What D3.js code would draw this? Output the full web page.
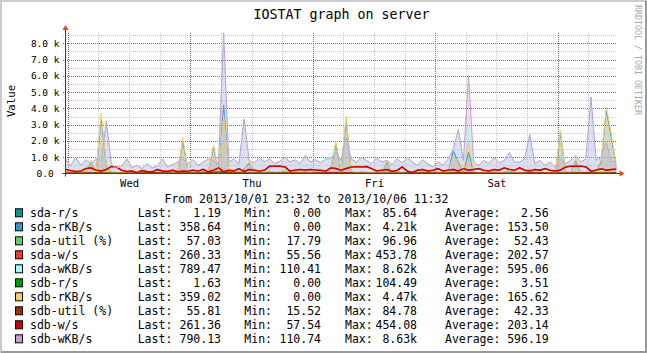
<!DOCTYPE html>
<html><head><meta charset="utf-8">
<script src="https://cdn.jsdelivr.net/npm/d3@7"></script>
<style>
body{margin:0;background:#fff}
svg{display:block}
text{font-family:"DejaVu Sans Mono",monospace;white-space:pre}
</style>
</head><body>
<svg id="c" width="647" height="353"></svg>
<script>
// ---------------- DATA ----------------
const titleText = "IOSTAT graph on server";
const yAxisTitle = "Value";
const watermark = "RRDTOOL / TOBI OETIKER";
const rangeText = "From 2013/10/01 23:32 to 2013/10/06 11:32";
const startTime = new Date(2013, 9, 1, 23, 32);
const endTime = new Date(2013, 9, 6, 11, 32);
const yTicks = [0, 1000, 2000, 3000, 4000, 5000, 6000, 7000, 8000];
const yTickLabels = ["0.0 ", "1.0 k", "2.0 k", "3.0 k", "4.0 k", "5.0 k", "6.0 k", "7.0 k", "8.0 k"];
const dayLabels = ["Wed", "Thu", "Fri", "Sat"];
const dayNoons = [new Date(2013,9,2,12), new Date(2013,9,3,12), new Date(2013,9,4,12), new Date(2013,9,5,12)];

const seriesNames = ["sda-r/s","sda-rKB/s","sda-util (%)","sda-w/s","sda-wKB/s","sdb-r/s","sdb-rKB/s","sdb-util (%)","sdb-w/s","sdb-wKB/s"];
const seriesColors = ["#009999","#3399cc","#66cc66","#ff3333","#99ffff","#009900","#ffcc66","#993300","#cc0000","#cc99cc"];
const lastLabels = ["1.19","358.64","57.03","260.33","789.47","1.63","359.02","55.81","261.36","790.13"];
const minLabels  = ["0.00","0.00","17.79","55.56","110.41","0.00","0.00","15.52","57.54","110.74"];
const maxLabels  = ["85.64","4.21k","96.96","453.78","8.62k","104.49","4.47k","84.78","454.08","8.63k"];
const avgLabels  = ["2.56","153.50","52.43","202.57","595.06","3.51","165.62","42.33","203.14","596.19"];

// sample hours after start (hourly for the big series, 3-hourly for the tiny ones)
const hoursFine = d3.range(0, 109, 1);
const hoursCoarse = d3.range(0, 109, 3);

const sdaRs = [2.1,0.8,3.4,1.2,0.6,2.8,1.5,4.0,0.9,1.7,85.6,2.3,1.1,3.2,0.7,1.9,2.6,0.4,6.8,1.3,0.9,2.4,1.6,0.5,3.1,1.0,8.2,2.0,0.8,1.4,2.7,0.6,1.8,3.5,1.2,0.9,1.19];
const sdbRs = [2.5,1.0,3.8,1.5,0.9,3.2,1.8,4.6,1.2,2.0,104.5,2.8,1.4,3.7,1.0,2.3,3.0,0.7,7.9,1.6,1.2,2.9,2.0,0.8,3.6,1.3,9.4,2.4,1.1,1.7,3.1,0.9,2.2,4.0,1.5,1.2,1.63];
const sdaUtil = [55,48,62,40,35,58,70,45,52,60,97,66,50,44,58,62,48,71,80,55,42,38,50,60,64,47,85,52,46,41,55,63,49,58,72,50,57];
const sdbUtil = [45,38,50,32,28,47,58,36,42,49,84,54,40,35,47,50,38,58,66,44,33,30,40,49,52,37,70,42,36,31,44,51,39,47,60,40,56];

const sdbWKB = [
900,450,1000,500,850,600,900,800,3200,550,
350,450,900,350,500,300,600,350,450,900,
400,550,700,900,600,850,500,700,900,750,
600,8630,700,900,600,3350,800,650,1000,700,
900,600,750,1000,700,850,600,1100,700,850,
650,900,900,1300,800,2150,900,700,1000,800,
600,950,700,800,550,900,650,1000,700,500,
850,600,400,700,500,900,1500,2700,800,6000,
700,500,800,600,1000,650,800,1300,700,700,
900,2400,600,800,500,700,400,900,600,800,
1100,700,900,4700,800,1000,1900,700,790];
const sdaWKB = [
880,470,980,520,830,620,880,780,3100,570,
360,440,880,370,490,310,590,360,460,880,
420,540,690,880,620,830,520,690,880,760,
620,8620,690,880,620,3300,780,660,980,720,
880,620,740,980,720,830,620,1080,720,830,
660,880,1250,1250,780,2100,880,720,980,780,
620,930,720,780,570,880,660,980,720,520,
830,620,420,690,520,880,1450,2600,780,2860,
720,520,780,620,980,660,780,1250,720,690,
880,2350,620,780,520,690,420,880,620,780,
1080,720,880,4650,780,980,1850,720,789];
const sdbRKB = [
120,60,200,80,150,800,100,3700,500,90,
60,40,100,30,80,20,60,40,30,80,
50,100,60,2200,150,80,60,200,100,1750,
120,3600,200,150,100,300,750,120,200,80,
150,60,100,200,80,150,60,120,40,100,
80,150,300,1950,200,3500,150,60,100,80,
50,120,60,800,40,100,60,150,80,30,
100,40,60,80,50,120,1000,800,150,2000,
100,40,80,60,150,50,100,200,60,40,
100,300,60,80,40,60,30,2650,100,80,
900,100,60,150,200,800,4100,2400,359];
const sdaRKB = [
110,50,180,70,140,700,90,3400,450,80,
50,30,90,30,70,20,50,30,30,70,
40,90,50,2000,130,70,50,180,90,1600,
110,4210,180,130,90,280,650,110,180,70,
130,50,90,180,70,130,50,110,30,90,
70,130,280,1800,180,3300,130,50,90,70,
40,110,50,700,30,90,50,130,70,30,
90,30,50,70,40,110,1400,700,130,1300,
90,30,70,50,130,40,90,180,50,30,
90,280,50,70,30,50,30,2500,90,70,
800,90,50,130,180,700,3900,2200,358];
const sdaW = [
250,180,120,150,300,350,200,150,250,430,
400,200,120,150,56,180,120,100,250,150,
120,200,100,150,120,200,150,250,100,200,
350,100,200,150,300,120,250,200,150,200,
440,454,450,400,150,200,250,200,250,220,
200,150,350,300,200,300,400,420,400,430,
300,150,200,250,120,200,400,150,60,200,
250,150,200,300,150,200,250,150,300,200,
250,300,200,150,250,200,350,250,200,350,
200,150,250,200,300,200,150,200,400,450,
450,450,400,150,200,300,200,250,260];
const sdbW = [
255,175,125,145,305,345,205,155,245,435,
395,205,115,155,58,185,115,105,245,155,
125,195,105,145,125,205,145,255,105,195,
355,105,195,155,295,125,245,205,145,205,
445,454,448,405,145,205,245,205,245,225,
195,155,345,305,195,305,395,425,405,425,
305,145,205,245,125,195,405,145,62,205,
245,155,195,305,145,205,245,155,295,205,
245,305,195,155,245,205,345,255,195,345,
205,145,245,205,305,195,155,205,395,445,
448,452,405,145,205,295,205,245,261];

const seriesValues = [sdaRs, sdaRKB, sdaUtil, sdaW, sdaWKB, sdbRs, sdbRKB, sdbUtil, sdbW, sdbWKB];
const seriesHours  = [hoursCoarse, hoursFine, hoursCoarse, hoursFine, hoursFine, hoursCoarse, hoursFine, hoursCoarse, hoursFine, hoursFine];
const seriesArea   = [false, true, false, false, true, false, true, false, false, true];

// ---------------- CHART ----------------
const W = 647, H = 353;
const P = {left: 65.5, right: 616.5, top: 33, bottom: 173.5};
const svg = d3.select("#c");
svg.append("rect").attr("width", W).attr("height", H).attr("fill", "#ffffff");
// 3D border
svg.append("path").attr("d", `M1,${H} V1 H${W}`).attr("fill","none").attr("stroke","#cbcbcb").attr("stroke-width",2);
svg.append("path").attr("d", `M1,${H-1} H${W-1} V1`).attr("fill","none").attr("stroke","#999999").attr("stroke-width",2);

const yMax = d3.max(seriesValues, s => d3.max(s));
const x = d3.scaleTime().domain([startTime, endTime]).range([P.left, P.right]);
const y = d3.scaleLinear().domain([0, yMax]).range([P.bottom, P.top]);
const tAt = h => new Date(startTime.getTime() + h * 3600000);

// grid
const minorY = d3.range(500, yMax, 1000);
const majorY = yTicks.slice(1);
const minorX = d3.timeHour.every(6).range(startTime, endTime).filter(d => d.getHours() !== 0);
const majorX = d3.timeDay.range(startTime, endTime);
const pw = P.right - P.left, ph = P.bottom - P.top;

function gridG(axis, tr, color) {
  const g = svg.append("g").attr("transform", tr).call(axis);
  g.select(".domain").remove();
  g.selectAll("line").attr("stroke", color).attr("stroke-dasharray", "1,1").attr("shape-rendering","crispEdges");
  g.selectAll("text").remove();
  return g;
}
gridG(d3.axisLeft(y).tickValues(minorY).tickSize(-pw - 3).tickFormat(""), `translate(${P.left - 3},0)`, "#c8c8c8");
gridG(d3.axisBottom(x).tickValues(minorX).tickSize(-ph).tickFormat(""), `translate(0,${P.bottom})`, "#c8c8c8");
gridG(d3.axisLeft(y).tickValues(majorY).tickSize(-pw - 3).tickFormat(""), `translate(${P.left - 3},0)`, "#a85a5a");
gridG(d3.axisBottom(x).tickValues(majorX).tickSize(-ph).tickFormat(""), `translate(0,${P.bottom})`, "#a85a5a");

// series
svg.append("clipPath").attr("id","clip").append("rect")
  .attr("x", P.left).attr("y", P.top - 2).attr("width", pw).attr("height", ph + 2);
const gS = svg.append("g").attr("clip-path","url(#clip)");
seriesValues.forEach((vals, i) => {
  if (!seriesArea[i]) return;
  const hrs = seriesHours[i];
  const area = d3.area().x((d, j) => x(tAt(hrs[j]))).y0(y(0)).y1(d => y(d));
  gS.append("path").datum(vals).attr("d", area).attr("fill", seriesColors[i]).attr("fill-opacity", 0.3);
});
seriesValues.forEach((vals, i) => {
  const hrs = seriesHours[i];
  const line = d3.line().x((d, j) => x(tAt(hrs[j]))).y(d => y(d));
  gS.append("path").datum(vals).attr("d", line).attr("fill","none")
    .attr("stroke", seriesColors[i]).attr("stroke-width", (i === 3 || i === 8) ? 1.4 : 1);
});

// axes lines + arrows
svg.append("line").attr("x1", P.left - 3).attr("x2", P.right + 4).attr("y1", P.bottom).attr("y2", P.bottom)
  .attr("stroke", "#404040").attr("stroke-width", 1);
svg.append("line").attr("x1", P.left).attr("x2", P.left).attr("y1", P.bottom + 3).attr("y2", P.top - 4)
  .attr("stroke", "#404040").attr("stroke-width", 1);
svg.append("path").attr("d", `M${P.left - 3},${P.top - 3} L${P.left + 3},${P.top - 3} L${P.left},${P.top - 8} Z`).attr("fill", "#ff3c14");
svg.append("path").attr("d", `M${P.right + 3},${P.bottom - 3} L${P.right + 3},${P.bottom + 3} L${P.right + 8},${P.bottom} Z`).attr("fill", "#ff3c14");

// y labels
const yAx = svg.append("g").attr("transform", `translate(${P.left},0)`)
  .call(d3.axisLeft(y).tickValues(yTicks).tickFormat((d, i) => yTickLabels[i]).tickSize(0).tickPadding(6));
yAx.select(".domain").remove();
yAx.selectAll("text").attr("font-family", '"DejaVu Sans Mono",monospace').attr("font-size", 9.5).attr("fill", "#000");

// x labels
const xAx = svg.append("g").attr("transform", `translate(0,${P.bottom})`)
  .call(d3.axisBottom(x).tickValues(dayNoons).tickFormat((d, i) => dayLabels[i]).tickSize(0).tickPadding(6));
xAx.select(".domain").remove();
xAx.selectAll("text").attr("font-family", '"DejaVu Sans Mono",monospace').attr("font-size", 10.5).attr("fill", "#000");

// title, axis title, watermark
svg.append("text").attr("x", 341.5).attr("y", 18.5).attr("text-anchor", "middle").attr("font-size", 13.3).text(titleText);
svg.append("text").attr("transform", "translate(14.5,101) rotate(-90)").attr("text-anchor", "middle").attr("font-size", 10.7).text(yAxisTitle);
svg.append("text").attr("transform", "translate(635,60) rotate(90)").attr("text-anchor", "middle").attr("font-size", 8.3).attr("fill", "#a8a8a8").text(watermark);

// legend
svg.append("text").attr("x", 164.5).attr("y", 203).attr("font-size", 11.5).text(rangeText);
const lg = svg.append("g").attr("font-size", 11.5);
seriesNames.forEach((name, i) => {
  const cy = 213.3 + i * 14;
  const by = cy + 4;
  lg.append("rect").attr("x", 15.5).attr("y", cy - 4.5).attr("width", 7).attr("height", 8)
    .attr("fill", seriesColors[i]).attr("stroke", "#000").attr("stroke-width", 1);
  lg.append("text").attr("x", 30).attr("y", by).text(name);
  lg.append("text").attr("x", 137.7).attr("y", by).text("Last:");
  lg.append("text").attr("x", 221).attr("y", by).attr("text-anchor", "end").text(lastLabels[i]);
  lg.append("text").attr("x", 244.3).attr("y", by).text("Min:");
  lg.append("text").attr("x", 321).attr("y", by).attr("text-anchor", "end").text(minLabels[i]);
  lg.append("text").attr("x", 345).attr("y", by).text("Max:");
  lg.append("text").attr("x", 417).attr("y", by).attr("text-anchor", "end").text(maxLabels[i]);
  lg.append("text").attr("x", 445).attr("y", by).text("Average:");
  lg.append("text").attr("x", 548.7).attr("y", by).attr("text-anchor", "end").text(avgLabels[i]);
});
</script>
</body></html>
